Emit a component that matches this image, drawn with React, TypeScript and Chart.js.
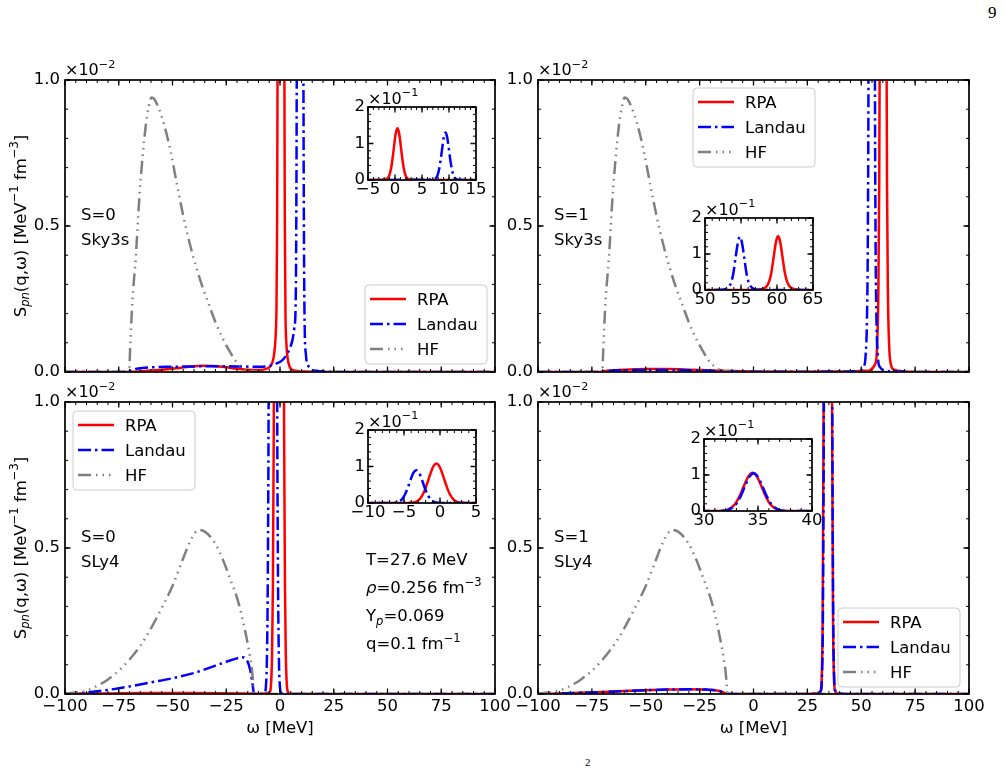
import React, { useEffect, useRef } from 'react';
import { Chart, registerables } from 'chart.js';

Chart.register(...registerables);

type Pt = [number, number];
type Run = { t: string; s?: 'sub' | 'sup'; it?: boolean };
type Note = { x: number; y: number; runs: Run[] };
type Kind = 'rpa' | 'landau' | 'hf';

const FAMILY = '"DejaVu Sans", "Noto Sans", sans-serif';
const FS = 16.5;

const RED = '#ff0000';
const BLUE = '#0000ff';
const GRAY = '#808080';
const LW = 2.5;
const DASH_LANDAU = [13, 4, 2.5, 4];
const DASH_HF = [13, 5, 1.5, 5, 1.5, 5, 1.5, 5];

// ---- axis ticks ----
const omegaTicks = [-100, -75, -50, -25, 0, 25, 50, 75, 100];
const sTicks = [0, 0.5, 1];
const insetSTicks = [0, 10, 20]; // shown as 0, 1, 2 (x10^-1)
const insetTicksSky3sS0 = [-5, 0, 5, 10, 15];
const insetTicksSky3sS1 = [50, 55, 60, 65];
const insetTicksSly4S0 = [-10, -5, 0, 5];
const insetTicksSly4S1 = [30, 35, 40];

// ---- response functions: [ω (MeV), S_pn (1e-2 MeV^-1 fm^-3)] ----
const sky3sHf: Pt[] = [
  [-100, 0], [-71, 0], [-70.2, 0], [-69.6, 0.1], [-68.6, 0.25], [-67.1, 0.39], [-65.4, 0.6],
  [-64, 0.73], [-62.5, 0.84], [-61, 0.91], [-59.8, 0.94], [-58.5, 0.935], [-56.5, 0.905],
  [-54, 0.85], [-51, 0.76], [-48, 0.645], [-45, 0.535], [-42, 0.44], [-39, 0.36], [-36, 0.29],
  [-33, 0.23], [-30, 0.17], [-27, 0.12], [-24, 0.078], [-21, 0.042], [-18, 0.018],
  [-15, 0.006], [-12, 0.002], [-8, 0], [100, 0],
];

const sky3sS0Rpa: Pt[] = [
  [-100, 0], [-72, 0], [-68, 0.001], [-62, 0.004], [-55, 0.008], [-48, 0.013], [-42, 0.018],
  [-36, 0.021], [-30, 0.02], [-25, 0.016], [-20, 0.011], [-15, 0.008], [-10, 0.007],
  [-6, 0.012], [-4, 0.025], [-2.95, 0.05], [-2.45, 0.08], [-2.05, 0.12], [-1.65, 0.22],
  [-1.35, 0.5], [-1.05, 1.25], [-0.75, 3.0], [-0.45, 5.9], [-0.15, 9.6], [0.15, 12.9],
  [0.45, 14.2], [0.75, 12.9], [1.05, 9.6], [1.35, 5.9], [1.65, 3.0], [1.95, 1.25],
  [2.25, 0.5], [2.55, 0.2], [2.95, 0.1], [3.5, 0.05], [4.5, 0.018], [6, 0.006], [9, 0.003],
  [14, 0.001], [20, 0], [100, 0],
];

const sky3sS0Landau: Pt[] = [
  [-100, 0], [-74, 0], [-70, 0.004], [-66, 0.012], [-60, 0.016], [-50, 0.018], [-40, 0.019],
  [-30, 0.02], [-20, 0.019], [-10, 0.018], [-5, 0.021], [-2, 0.028], [1, 0.04], [3, 0.058],
  [4.5, 0.08], [5.8, 0.11], [6.65, 0.15], [7.25, 0.22], [7.55, 0.47], [7.85, 1.2],
  [8.15, 2.8], [8.45, 5.45], [8.75, 8.8], [9.05, 11.8], [9.35, 13.0], [9.65, 11.8],
  [9.95, 8.8], [10.25, 5.45], [10.55, 2.8], [10.85, 1.2], [11.15, 0.45], [11.45, 0.17],
  [12.05, 0.06], [13, 0.025], [14.5, 0.01], [17, 0.004], [22, 0.001], [30, 0], [100, 0],
];

const sky3sS1Rpa: Pt[] = [
  [-100, 0], [-72, 0], [-68, 0.004], [-60, 0.008], [-50, 0.01], [-40, 0.01], [-30, 0.008],
  [-20, 0.005], [-10, 0.003], [0, 0.002], [20, 0.001], [45, 0.002], [52, 0.004],
  [56.65, 0.03], [57.35, 0.09], [57.95, 0.28], [58.35, 0.65], [58.65, 1.3], [58.95, 2.6],
  [59.25, 5.2], [59.55, 9.3], [59.85, 13.3], [60.15, 15.0], [60.45, 13.3], [60.75, 9.3],
  [61.05, 5.2], [61.35, 2.6], [61.65, 1.3], [61.95, 0.65], [62.35, 0.28], [62.95, 0.09],
  [63.65, 0.03], [65.15, 0.008], [70, 0.002], [80, 0], [100, 0],
];

const sky3sS1Landau: Pt[] = [
  [-100, 0], [-72, 0], [-68, 0.003], [-60, 0.006], [-50, 0.007], [-40, 0.007], [-30, 0.006],
  [-20, 0.004], [-10, 0.002], [0, 0.001], [30, 0.001], [48, 0.003], [51.35, 0.02],
  [52.05, 0.06], [52.65, 0.18], [53.05, 0.45], [53.35, 1.0], [53.65, 2.2], [53.95, 4.8],
  [54.25, 9.0], [54.55, 13.0], [54.85, 14.8], [55.15, 13.0], [55.45, 9.0], [55.75, 4.8],
  [56.05, 2.2], [56.35, 1.0], [56.65, 0.45], [57.05, 0.18], [57.65, 0.06], [58.35, 0.02],
  [62, 0.004], [70, 0.001], [80, 0], [100, 0],
];

const sly4Hf: Pt[] = [
  [-100, 0.002], [-95, 0.005], [-90, 0.012], [-85, 0.028], [-80, 0.05], [-75, 0.08],
  [-70, 0.118], [-65, 0.165], [-60, 0.225], [-55, 0.295], [-50, 0.37], [-45, 0.465],
  [-42, 0.52], [-39.5, 0.552], [-37.5, 0.562], [-35, 0.556], [-32, 0.535], [-29, 0.5],
  [-26, 0.45], [-23, 0.39], [-20, 0.33], [-17.5, 0.26], [-15.5, 0.19], [-14, 0.13],
  [-13, 0.08], [-12.4, 0.03], [-12, 0], [100, 0],
];

const sly4S0Rpa: Pt[] = [
  [-100, 0.001], [-80, 0.002], [-60, 0.003], [-40, 0.003], [-20, 0.002], [-12, 0.001],
  [-7, 0.002], [-5.2, 0.005], [-4.5, 0.011], [-4.1, 0.042], [-3.7, 0.134], [-3.3, 0.37],
  [-2.9, 0.91], [-2.5, 1.94], [-2.1, 3.6], [-1.7, 5.83], [-1.3, 8.2], [-0.9, 10.08],
  [-0.5, 10.8], [-0.1, 10.08], [0.3, 8.2], [0.7, 5.83], [1.1, 3.6], [1.5, 1.94], [1.9, 0.91],
  [2.3, 0.37], [2.7, 0.134], [3.1, 0.042], [3.5, 0.011], [4.5, 0.002], [8, 0], [100, 0],
];

const sly4S0Landau: Pt[] = [
  [-100, 0], [-95, 0.002], [-90, 0.005], [-80, 0.014], [-70, 0.026], [-60, 0.04], [-50, 0.054],
  [-40, 0.072], [-30, 0.097], [-24, 0.113], [-20, 0.122], [-17.8, 0.126], [-15.8, 0.12],
  [-14.5, 0.1], [-13.5, 0.07], [-12.8, 0.035], [-12.3, 0.008], [-12, 0], [-8, 0],
  [-7, 0.005], [-6.5, 0.031], [-6.1, 0.117], [-5.7, 0.37], [-5.3, 0.98], [-4.9, 2.18],
  [-4.5, 4.05], [-4.1, 6.31], [-3.7, 8.24], [-3.3, 9.0], [-2.9, 8.24], [-2.5, 6.31],
  [-2.1, 4.05], [-1.7, 2.18], [-1.3, 0.98], [-0.9, 0.37], [-0.5, 0.117], [-0.1, 0.031],
  [0.5, 0.005], [2, 0], [100, 0],
];

const sly4S1Rpa: Pt[] = [
  [-100, 0], [-90, 0.002], [-80, 0.004], [-70, 0.007], [-60, 0.01], [-50, 0.013], [-40, 0.015],
  [-30, 0.016], [-22, 0.015], [-17, 0.012], [-14.5, 0.007], [-13.2, 0.002], [-12.8, 0],
  [25, 0], [30, 0.002], [31.3, 0.014], [31.7, 0.067], [32.1, 0.26], [32.5, 0.9], [32.9, 2.03],
  [33.3, 4.18], [33.7, 7.01], [34.1, 9.56], [34.5, 10.6], [34.9, 9.56], [35.3, 7.01],
  [35.7, 4.18], [36.1, 2.03], [36.5, 0.9], [36.9, 0.26], [37.3, 0.067], [37.7, 0.014],
  [39, 0.002], [45, 0], [100, 0],
];

const sly4S1Landau: Pt[] = [
  [-100, 0], [-90, 0.002], [-80, 0.004], [-70, 0.007], [-60, 0.01], [-50, 0.013], [-40, 0.015],
  [-30, 0.016], [-22, 0.015], [-17, 0.012], [-14.5, 0.007], [-13.2, 0.002], [-12.8, 0],
  [25, 0], [30, 0.002], [31.4, 0.014], [31.8, 0.066], [32.2, 0.26], [32.6, 0.89], [33.0, 2.0],
  [33.4, 4.14], [33.8, 6.95], [34.2, 9.47], [34.6, 10.5], [35.0, 9.47], [35.4, 6.95],
  [35.8, 4.14], [36.2, 2.0], [36.6, 0.89], [37.0, 0.26], [37.4, 0.066], [37.8, 0.014],
  [39, 0.002], [45, 0], [100, 0],
];

// ---- text runs ----
const yTitleRuns: Run[] = [
  { t: 'S' }, { t: 'pn', s: 'sub', it: true }, { t: '(q,ω) [MeV' }, { t: '−1', s: 'sup' },
  { t: ' fm' }, { t: '−3', s: 'sup' }, { t: ']' },
];
const xTitleRuns: Run[] = [{ t: 'ω [MeV]' }];
const mainOffsetRuns: Run[] = [{ t: '×10' }, { t: '−2', s: 'sup' }];
const insetOffsetRuns: Run[] = [{ t: '×10' }, { t: '−1', s: 'sup' }];

const conditionNotes: Note[] = [
  { x: 301, y: 163, runs: [{ t: 'T=27.6 MeV' }] },
  { x: 301, y: 191, runs: [{ t: 'ρ', it: true }, { t: '=0.256 fm' }, { t: '−3', s: 'sup' }] },
  { x: 301, y: 219, runs: [{ t: 'Y' }, { t: 'p', s: 'sub', it: true }, { t: '=0.069' }] },
  { x: 301, y: 247, runs: [{ t: 'q=0.1 fm' }, { t: '−1', s: 'sup' }] },
];

const modelNotes = (spin: string, model: string): Note[] => [
  { x: 16, y: 139.5, runs: [{ t: spin }] },
  { x: 16, y: 165, runs: [{ t: model }] },
];

// ---- drawing helpers ----
function runFont(r: Run, size: number) {
  const sz = r.s ? size * 0.7 : size;
  return `${r.it ? 'italic ' : ''}${sz}px ${FAMILY}`;
}
function runsWidth(ctx: CanvasRenderingContext2D, runs: Run[], size: number) {
  let w = 0;
  for (const r of runs) {
    ctx.font = runFont(r, size);
    w += ctx.measureText(r.t).width;
  }
  return w;
}
function drawRuns(ctx: CanvasRenderingContext2D, runs: Run[], x: number, y: number, size: number) {
  let cx = x;
  for (const r of runs) {
    ctx.font = runFont(r, size);
    const dy = r.s === 'sup' ? -0.45 * size : r.s === 'sub' ? 0.22 * size : 0;
    ctx.fillText(r.t, cx, y + dy);
    cx += ctx.measureText(r.t).width;
  }
}
function roundRectPath(ctx: CanvasRenderingContext2D, x: number, y: number, w: number, h: number, r: number) {
  ctx.beginPath();
  ctx.moveTo(x + r, y);
  ctx.lineTo(x + w - r, y);
  ctx.arcTo(x + w, y, x + w, y + r, r);
  ctx.lineTo(x + w, y + h - r);
  ctx.arcTo(x + w, y + h, x + w - r, y + h, r);
  ctx.lineTo(x + r, y + h);
  ctx.arcTo(x, y + h, x, y + h - r, r);
  ctx.lineTo(x, y + r);
  ctx.arcTo(x, y, x + r, y, r);
  ctx.closePath();
}
function stepValues(min: number, max: number, step: number) {
  const n = Math.round((max - min) / step);
  const out: number[] = [];
  for (let i = 0; i <= n; i++) out.push(min + i * step);
  return out;
}
function fmtSigned(v: number) {
  return v < 0 ? '\u2212' + Math.abs(v) : String(v);
}

type DecoSpec = {
  xMinor: number;
  yMinor: number;
  white?: boolean;
  offsetRuns: Run[];
  offsetDy: number;
  legend?: { x: number; y: number };
  notes: Note[];
  yTitle?: boolean;
  xTitle?: boolean;
};

// frame, inward ticks, legend and annotations
function deco(spec: DecoSpec) {
  return {
    id: 'deco',
    beforeDraw(chart: any) {
      if (!spec.white) return;
      const { ctx, chartArea: a } = chart;
      ctx.save();
      ctx.fillStyle = '#ffffff';
      ctx.fillRect(a.left, a.top, a.right - a.left, a.bottom - a.top);
      ctx.restore();
    },
    afterDraw(chart: any) {
      const { ctx, chartArea: a } = chart;
      const xs = chart.scales.x;
      const ys = chart.scales.y;
      ctx.save();
      ctx.strokeStyle = '#000';
      ctx.fillStyle = '#000';
      ctx.setLineDash([]);

      const minorLen = 3;
      const majorLen = 5.5;
      ctx.lineWidth = 1;
      ctx.beginPath();
      for (const v of stepValues(xs.min, xs.max, spec.xMinor)) {
        const px = xs.getPixelForValue(v);
        ctx.moveTo(px, a.bottom); ctx.lineTo(px, a.bottom - minorLen);
        ctx.moveTo(px, a.top); ctx.lineTo(px, a.top + minorLen);
      }
      for (const v of stepValues(ys.min, ys.max, spec.yMinor)) {
        const py = ys.getPixelForValue(v);
        ctx.moveTo(a.left, py); ctx.lineTo(a.left + minorLen, py);
        ctx.moveTo(a.right, py); ctx.lineTo(a.right - minorLen, py);
      }
      ctx.stroke();
      ctx.lineWidth = 1.3;
      ctx.beginPath();
      for (const t of xs.ticks) {
        const px = xs.getPixelForValue(t.value);
        ctx.moveTo(px, a.bottom); ctx.lineTo(px, a.bottom - majorLen);
        ctx.moveTo(px, a.top); ctx.lineTo(px, a.top + majorLen);
      }
      for (const t of ys.ticks) {
        const py = ys.getPixelForValue(t.value);
        ctx.moveTo(a.left, py); ctx.lineTo(a.left + majorLen, py);
        ctx.moveTo(a.right, py); ctx.lineTo(a.right - majorLen, py);
      }
      ctx.stroke();
      ctx.lineWidth = 1.7;
      ctx.strokeRect(a.left, a.top, a.right - a.left, a.bottom - a.top);

      ctx.textAlign = 'left';
      ctx.textBaseline = 'alphabetic';
      drawRuns(ctx, spec.offsetRuns, a.left, a.top + spec.offsetDy, 16);

      for (const n of spec.notes) drawRuns(ctx, n.runs, a.left + n.x, a.top + n.y, FS);

      if (spec.xTitle) {
        const w = runsWidth(ctx, xTitleRuns, FS);
        drawRuns(ctx, xTitleRuns, (a.left + a.right) / 2 - w / 2, a.bottom + 39, FS);
      }
      if (spec.yTitle) {
        const w = runsWidth(ctx, yTitleRuns, FS);
        ctx.save();
        ctx.translate(a.left - 39.5, (a.top + a.bottom) / 2);
        ctx.rotate(-Math.PI / 2);
        drawRuns(ctx, yTitleRuns, -w / 2, 0, FS);
        ctx.restore();
      }

      if (spec.legend) {
        const bx = a.left + spec.legend.x;
        const by = a.top + spec.legend.y;
        roundRectPath(ctx, bx, by, 122, 79, 4);
        ctx.fillStyle = 'rgba(255,255,255,0.8)';
        ctx.fill();
        ctx.strokeStyle = '#cccccc';
        ctx.lineWidth = 1;
        ctx.stroke();
        chart.data.datasets.forEach((ds: any, i: number) => {
          const cy = by + 14 + 25 * i;
          ctx.strokeStyle = ds.borderColor;
          ctx.lineWidth = ds.borderWidth;
          ctx.setLineDash(ds.borderDash || []);
          ctx.beginPath();
          ctx.moveTo(bx + 5, cy);
          ctx.lineTo(bx + 41, cy);
          ctx.stroke();
          ctx.setLineDash([]);
          ctx.fillStyle = '#000';
          ctx.font = `${FS}px ${FAMILY}`;
          ctx.fillText(ds.label, bx + 52, cy + 6);
        });
      }
      ctx.restore();
    },
  };
}

const STYLE: Record<Kind, { label: string; color: string; dash: number[]; order: number }> = {
  rpa: { label: 'RPA', color: RED, dash: [], order: 3 },
  landau: { label: 'Landau', color: BLUE, dash: DASH_LANDAU, order: 2 },
  hf: { label: 'HF', color: GRAY, dash: DASH_HF, order: 1 },
};

function dataset(kind: Kind, pts: Pt[]) {
  const st = STYLE[kind];
  return {
    label: st.label,
    data: pts.map(([x, y]) => ({ x, y })),
    borderColor: st.color,
    borderWidth: LW,
    borderDash: st.dash,
    borderJoinStyle: 'round',
    pointRadius: 0,
    pointHoverRadius: 0,
    fill: false,
    cubicInterpolationMode: 'monotone',
    order: st.order,
  };
}

function xScale(min: number, max: number, ticks: number[], show: boolean, height: number, pad: number) {
  return {
    type: 'linear',
    min,
    max,
    afterBuildTicks: (s: any) => { s.ticks = ticks.map((value) => ({ value })); },
    afterFit: (s: any) => { s.height = height; },
    grid: { display: false, drawTicks: false },
    border: { display: false },
    ticks: {
      display: show, autoSkip: false, maxRotation: 0, minRotation: 0, padding: pad,
      color: '#000', font: { family: FAMILY, size: FS },
      callback: (v: any) => fmtSigned(Number(v)),
    },
  };
}

function yScale(min: number, max: number, ticks: number[], fmt: (v: number) => string, width: number, pad: number) {
  return {
    type: 'linear',
    min,
    max,
    afterBuildTicks: (s: any) => { s.ticks = ticks.map((value) => ({ value })); },
    afterFit: (s: any) => { s.width = width; },
    grid: { display: false, drawTicks: false },
    border: { display: false },
    ticks: {
      autoSkip: false, padding: pad, color: '#000', font: { family: FAMILY, size: FS },
      callback: (v: any) => fmt(Number(v)),
    },
  };
}

// ---- layout ----
const ML = 60, MT = 26, MR = 30, MB = 50;
const IL = 32, IT = 24, IR = 20, IB = 26;

type MainSpec = {
  left: number; top: number; w: number; h: number;
  series: [Kind, Pt[]][];
  showX: boolean; yTitle: boolean;
  legend: { x: number; y: number };
  notes: Note[];
};

const mainPanels: MainSpec[] = [
  {
    left: 65, top: 80, w: 430, h: 292,
    series: [['rpa', sky3sS0Rpa], ['landau', sky3sS0Landau], ['hf', sky3sHf]],
    showX: false, yTitle: true, legend: { x: 300, y: 205 },
    notes: modelNotes('S=0', 'Sky3s'),
  },
  {
    left: 538, top: 80, w: 431, h: 292,
    series: [['rpa', sky3sS1Rpa], ['landau', sky3sS1Landau], ['hf', sky3sHf]],
    showX: false, yTitle: false, legend: { x: 155, y: 8 },
    notes: modelNotes('S=1', 'Sky3s'),
  },
  {
    left: 65, top: 402, w: 430, h: 292,
    series: [['rpa', sly4S0Rpa], ['landau', sly4S0Landau], ['hf', sly4Hf]],
    showX: true, yTitle: true, legend: { x: 8, y: 9 },
    notes: [...modelNotes('S=0', 'SLy4'), ...conditionNotes],
  },
  {
    left: 538, top: 402, w: 431, h: 292,
    series: [['rpa', sly4S1Rpa], ['landau', sly4S1Landau], ['hf', sly4Hf]],
    showX: true, yTitle: false, legend: { x: 300, y: 206 },
    notes: modelNotes('S=1', 'SLy4'),
  },
];

type InsetSpec = {
  left: number; top: number; w: number; h: number;
  xMin: number; xMax: number; xTicks: number[];
  series: [Kind, Pt[]][];
};

const insets: InsetSpec[] = [
  { left: 368, top: 107, w: 108, h: 73, xMin: -5, xMax: 15, xTicks: insetTicksSky3sS0,
    series: [['rpa', sky3sS0Rpa], ['landau', sky3sS0Landau]] },
  { left: 705, top: 218, w: 108, h: 72, xMin: 50, xMax: 65, xTicks: insetTicksSky3sS1,
    series: [['rpa', sky3sS1Rpa], ['landau', sky3sS1Landau]] },
  { left: 368, top: 430, w: 108, h: 73, xMin: -10, xMax: 5, xTicks: insetTicksSly4S0,
    series: [['rpa', sly4S0Rpa], ['landau', sly4S0Landau]] },
  { left: 704, top: 439, w: 108, h: 72, xMin: 30, xMax: 40, xTicks: insetTicksSly4S1,
    series: [['rpa', sly4S1Rpa], ['landau', sly4S1Landau]] },
];

function baseOptions(padding: any, scales: any) {
  return {
    responsive: false,
    animation: false,
    devicePixelRatio: 1,
    events: [],
    layout: { padding },
    elements: { line: { capBezierPoints: false } },
    plugins: { legend: { display: false }, tooltip: { enabled: false } },
    scales,
  };
}

function mainConfig(p: MainSpec): any {
  return {
    type: 'line',
    data: { datasets: p.series.map(([k, pts]) => dataset(k, pts)) },
    options: baseOptions(
      { left: 0, top: MT, right: MR, bottom: 0 },
      {
        x: xScale(-100, 100, omegaTicks, p.showX, MB, 3),
        y: yScale(0, 1, sTicks, (v) => v.toFixed(1), ML, 5),
      },
    ),
    plugins: [deco({
      xMinor: 5, yMinor: 0.1, offsetRuns: mainOffsetRuns, offsetDy: -5,
      legend: p.legend, notes: p.notes, yTitle: p.yTitle, xTitle: p.showX,
    })],
  };
}

function insetConfig(p: InsetSpec): any {
  return {
    type: 'line',
    data: { datasets: p.series.map(([k, pts]) => dataset(k, pts)) },
    options: baseOptions(
      { left: 0, top: IT, right: IR, bottom: 0 },
      {
        x: xScale(p.xMin, p.xMax, p.xTicks, true, IB, 0),
        y: yScale(0, 20, insetSTicks, (v) => String(v / 10), IL, 3),
      },
    ),
    plugins: [deco({
      xMinor: 1, yMinor: 2, white: true, offsetRuns: insetOffsetRuns, offsetDy: -3.5, notes: [],
    })],
  };
}

function ChartCanvas(props: { left: number; top: number; width: number; height: number; make: () => any }) {
  const ref = useRef<HTMLCanvasElement>(null);
  useEffect(() => {
    const chart = new Chart(ref.current as HTMLCanvasElement, props.make());
    return () => chart.destroy();
  }, []);
  return (
    <canvas
      ref={ref}
      width={props.width}
      height={props.height}
      style={{ position: 'absolute', left: props.left, top: props.top, width: props.width, height: props.height }}
    />
  );
}

export default function App() {
  return (
    <div style={{ position: 'absolute', left: 0, top: 0, width: 1006, height: 771, background: '#fff', overflow: 'hidden' }}>
      {mainPanels.map((p, i) => (
        <ChartCanvas
          key={'main' + i}
          left={p.left - ML}
          top={p.top - MT}
          width={ML + p.w + MR}
          height={MT + p.h + MB}
          make={() => mainConfig(p)}
        />
      ))}
      {insets.map((p, i) => (
        <ChartCanvas
          key={'inset' + i}
          left={p.left - IL}
          top={p.top - IT}
          width={IL + p.w + IR}
          height={IT + p.h + IB}
          make={() => insetConfig(p)}
        />
      ))}
      <div style={{ position: 'absolute', left: 988, top: 3, font: '17px "Liberation Serif", serif', lineHeight: 'normal' }}>9</div>
      <div style={{ position: 'absolute', left: 585, top: 756, font: '11px "Liberation Serif", serif', lineHeight: 'normal' }}>2</div>
    </div>
  );
}
